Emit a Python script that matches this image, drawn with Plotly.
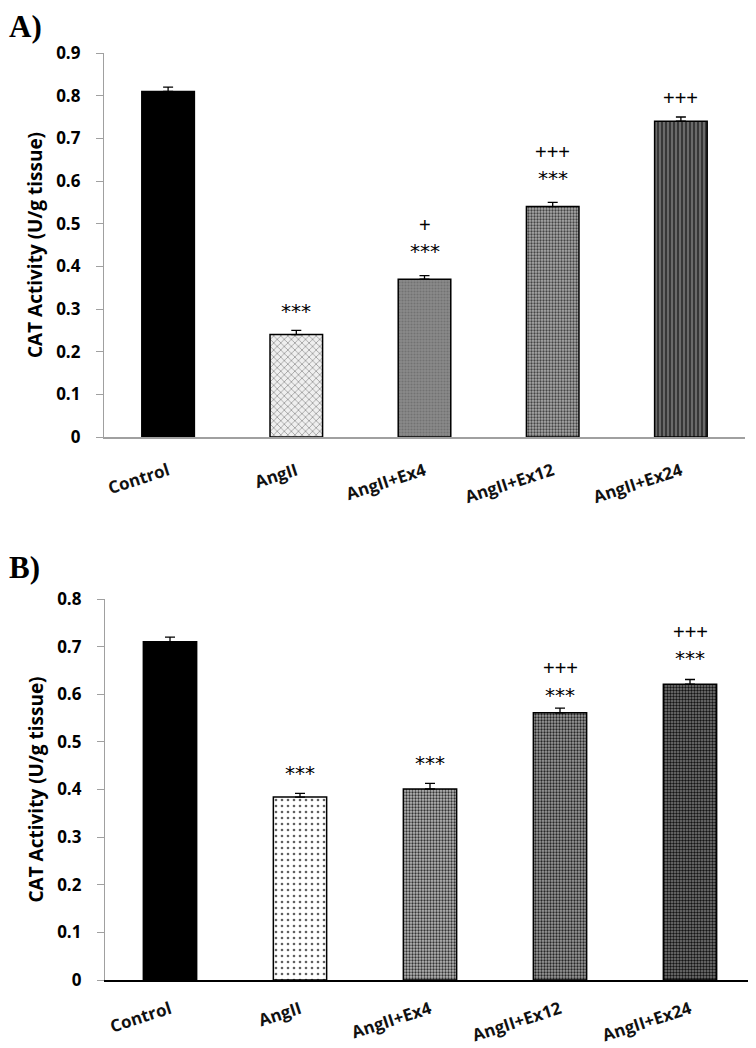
import plotly.graph_objects as go

categories = ["Control", "AngII", "AngII+Ex4", "AngII+Ex12", "AngII+Ex24"]

# Panel A
values_a = [0.81, 0.24, 0.37, 0.54, 0.74]
errors_a = [0.010, 0.010, 0.008, 0.010, 0.010]
stars_a = ["", "***", "***", "***", ""]
stars_a_y = [None, 0.295, 0.436, 0.607, None]
plus_a = ["", "", "+", "+++", "+++"]
plus_a_y = [None, None, 0.497, 0.669, 0.794]

# Panel B
values_b = [0.71, 0.384, 0.401, 0.561, 0.621]
errors_b = [0.010, 0.008, 0.012, 0.010, 0.010]
stars_b = ["", "***", "***", "***", "***"]
stars_b_y = [None, 0.435, 0.455, 0.598, 0.676]
plus_b = ["", "", "", "+++", "+++"]
plus_b_y = [None, None, None, 0.655, 0.731]

ticks_a = [0, 0.1, 0.2, 0.3, 0.4, 0.5, 0.6, 0.7, 0.8, 0.9]
ticks_b = [0, 0.1, 0.2, 0.3, 0.4, 0.5, 0.6, 0.7, 0.8]

pat_a = [
    dict(shape="", bgcolor="#000000"),
    dict(shape="x", fgcolor="#8a8a8a", bgcolor="#efefef", size=5, solidity=0.25),
    dict(shape=".", fgcolor="#727272", bgcolor="#8a8a8a", size=3, solidity=0.4),
    dict(shape=".", fgcolor="#444444", bgcolor="#ababab", size=3, solidity=0.45),
    dict(shape="|", fgcolor="#2a2a2a", bgcolor="#6a6a6a", size=4, solidity=0.4),
]
pat_b = [
    dict(shape="", bgcolor="#000000"),
    dict(shape=".", fgcolor="#606060", bgcolor="#ffffff", size=6, solidity=0.15),
    dict(shape=".", fgcolor="#333333", bgcolor="#b8b8b8", size=3, solidity=0.45),
    dict(shape=".", fgcolor="#262626", bgcolor="#9c9c9c", size=3, solidity=0.45),
    dict(shape=".", fgcolor="#141414", bgcolor="#7a7a7a", size=3, solidity=0.5),
]

# the page body adds an 8px offset; positions below are in page pixels
OFF = 8
W, H = 756, 1048

def fx(px):
    return (px - OFF) / W

def fy(py):
    return (H - (py - OFF)) / H

fig = go.Figure()

def add_panel(vals, errs, pats, xa, ya):
    for i, c in enumerate(categories):
        p = pats[i]
        if p["shape"] == "":
            marker = dict(color=p["bgcolor"], line=dict(color="black", width=1.5))
        else:
            marker = dict(
                color=p["bgcolor"],
                line=dict(color="black", width=1.5),
                pattern=dict(shape=p["shape"], fgcolor=p["fgcolor"], bgcolor=p["bgcolor"],
                             size=p["size"], solidity=p["solidity"], fillmode="replace"),
            )
        fig.add_trace(go.Bar(
            x=[c], y=[vals[i]], xaxis=xa, yaxis=ya, width=0.41,
            marker=marker, showlegend=False,
            error_y=dict(type="data", array=[errs[i]], arrayminus=[0], symmetric=False,
                         color="black", thickness=1.3, width=5),
        ))

add_panel(values_a, errors_a, pat_a, "x", "y")
add_panel(values_b, errors_b, pat_b, "x2", "y2")

ann = []
star_font = dict(family="DejaVu Sans", size=20, color="#000000")
plus_font = dict(family="Liberation Sans", size=20, color="#000000")
for i, c in enumerate(categories):
    if stars_a[i]:
        ann.append(dict(x=c, y=stars_a_y[i], xref="x", yref="y", text=stars_a[i],
                        showarrow=False, font=star_font))
    if plus_a[i]:
        ann.append(dict(x=c, y=plus_a_y[i], xref="x", yref="y", text=plus_a[i],
                        showarrow=False, font=plus_font))
    if stars_b[i]:
        ann.append(dict(x=c, y=stars_b_y[i], xref="x2", yref="y2", text=stars_b[i],
                        showarrow=False, font=star_font))
    if plus_b[i]:
        ann.append(dict(x=c, y=plus_b_y[i], xref="x2", yref="y2", text=plus_b[i],
                        showarrow=False, font=plus_font))

ann.append(dict(x=0.0, y=1.0, xref="paper", yref="paper", xanchor="left", yanchor="top",
                text="<b>A)</b>", showarrow=False, borderpad=0,
                font=dict(family="Liberation Serif", size=31, color="black")))
ann.append(dict(x=0.0, y=fy(549), xref="paper", yref="paper", xanchor="left",
                yanchor="top", text="<b>B)</b>", showarrow=False, borderpad=0,
                font=dict(family="Liberation Serif", size=31, color="black")))

tick_font = dict(family="Open Sans", size=17, color="black", weight="bold")
xtick_font = dict(family="Open Sans", size=17, color="#111111", weight="bold")
title_font = dict(family="Open Sans", size=19, color="black")

common_x = dict(type="category", range=[-0.5, 4.5], showgrid=False, ticks="",
                tickangle=-18, tickfont=xtick_font, zeroline=False, automargin=False)
common_y = dict(showgrid=False, zeroline=False, showline=True, linecolor="#a0a0a0",
                linewidth=1.3, ticks="outside", ticklen=7, tickcolor="#a0a0a0",
                tickfont=tick_font, automargin=False, ticklabelstandoff=12)

fig.update_layout(
    width=W, height=H,
    margin=dict(l=0, r=0, t=0, b=0),
    paper_bgcolor="white", plot_bgcolor="white",
    annotations=ann,
    xaxis=dict(common_x, domain=[fx(104), fx(745)], anchor="y", ticklabelstandoff=16,
               showline=True, linecolor="#a0a0a0", linewidth=1.5),
    yaxis=dict(common_y, domain=[fy(437), fy(53)], range=[0, 0.9],
               anchor="x", tickvals=ticks_a, ticktext=[f"{t:g}" for t in ticks_a],
               title=dict(text="<b>CAT Activity (U/g tissue)</b>", font=title_font, standoff=8)),
    xaxis2=dict(common_x, domain=[fx(105), min(1.0, fx(755))], anchor="y2", ticklabelstandoff=11,
                showline=True, linecolor="black", linewidth=2.2),
    yaxis2=dict(common_y, domain=[fy(980), fy(599)], range=[0, 0.8],
                anchor="x2", tickvals=ticks_b, ticktext=[f"{t:g}" for t in ticks_b],
                title=dict(text="<b>CAT Activity (U/g tissue)</b>", font=title_font, standoff=8)),
)

fig.write_html("out.html")
